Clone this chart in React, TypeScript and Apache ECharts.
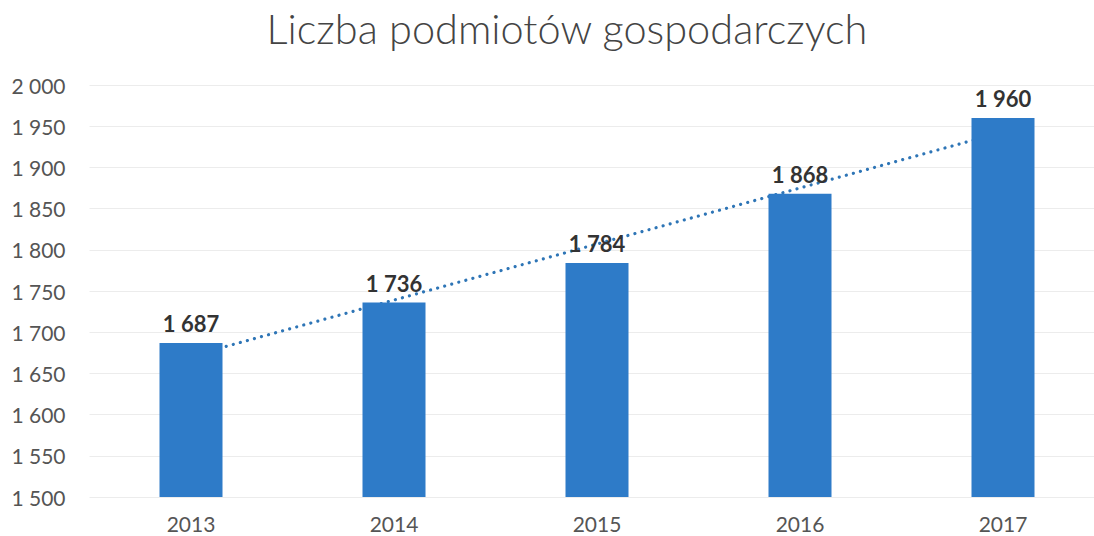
import React, { useEffect, useRef } from "react";
import * as echarts from "echarts";

const TITLE = "Liczba podmiotów gospodarczych";
const years = ["2013", "2014", "2015", "2016", "2017"];
const values = [1687, 1736, 1784, 1868, 1960];
// linear trend line at each category centre
const trend = [1671, 1739, 1807, 1875, 1943];
const yMin = 1500;
const yMax = 2000;
const yStep = 50;

const fmt = (v: number) => String(v).replace(/\B(?=(\d{3})+(?!\d))/g, " ");

export default function App() {
  const ref = useRef<HTMLDivElement>(null);
  useEffect(() => {
    if (!ref.current) return;
    const chart = echarts.init(ref.current, undefined, { renderer: "svg" });
    chart.setOption({
      animation: false,
      backgroundColor: "#ffffff",
      title: {
        text: TITLE,
        left: 562,
        textAlign: "center",
        top: 2,
        textStyle: {
          fontFamily: "Lato",
          fontWeight: 300,
          fontSize: 41.5,
          color: "#444444",
        },
      },
      grid: { left: 89.5, top: 85, width: 1015, height: 412, outerBoundsMode: "none" },
      xAxis: {
        type: "category",
        data: years,
        axisLine: { show: false },
        axisTick: { show: false },
        axisLabel: {
          margin: 16,
          fontFamily: "Lato",
          fontSize: 21,
          color: "#555555",
        },
      },
      yAxis: {
        type: "value",
        min: yMin,
        max: yMax,
        interval: yStep,
        axisLine: { show: false },
        axisTick: { show: false },
        splitLine: { lineStyle: { color: "#ececec", width: 1 } },
        axisLabel: {
          margin: 24,
          fontFamily: "Lato",
          fontSize: 21,
          color: "#555555",
          formatter: (v: number) => fmt(v),
        },
      },
      series: [
        {
          type: "line",
          data: trend,
          z: 1,
          symbol: "none",
          silent: true,
          lineStyle: {
            color: "#2E75B6",
            width: 3.2,
            type: [0.01, 7.3],
            cap: "round",
          },
        },
        {
          type: "bar",
          data: values,
          z: 3,
          barWidth: 63,
          itemStyle: { color: "#2E7BC8" },
          label: {
            show: true,
            position: "top",
            distance: 8,
            fontFamily: "Lato",
            fontWeight: "bold",
            fontSize: 22,
            color: "#333333",
            formatter: (p: any) => fmt(p.value),
          },
        },
      ],
    });
    return () => chart.dispose();
  }, []);
  return (
    <div
      ref={ref}
      style={{ position: "absolute", left: 0, top: 0, width: 1094, height: 536 }}
    />
  );
}
